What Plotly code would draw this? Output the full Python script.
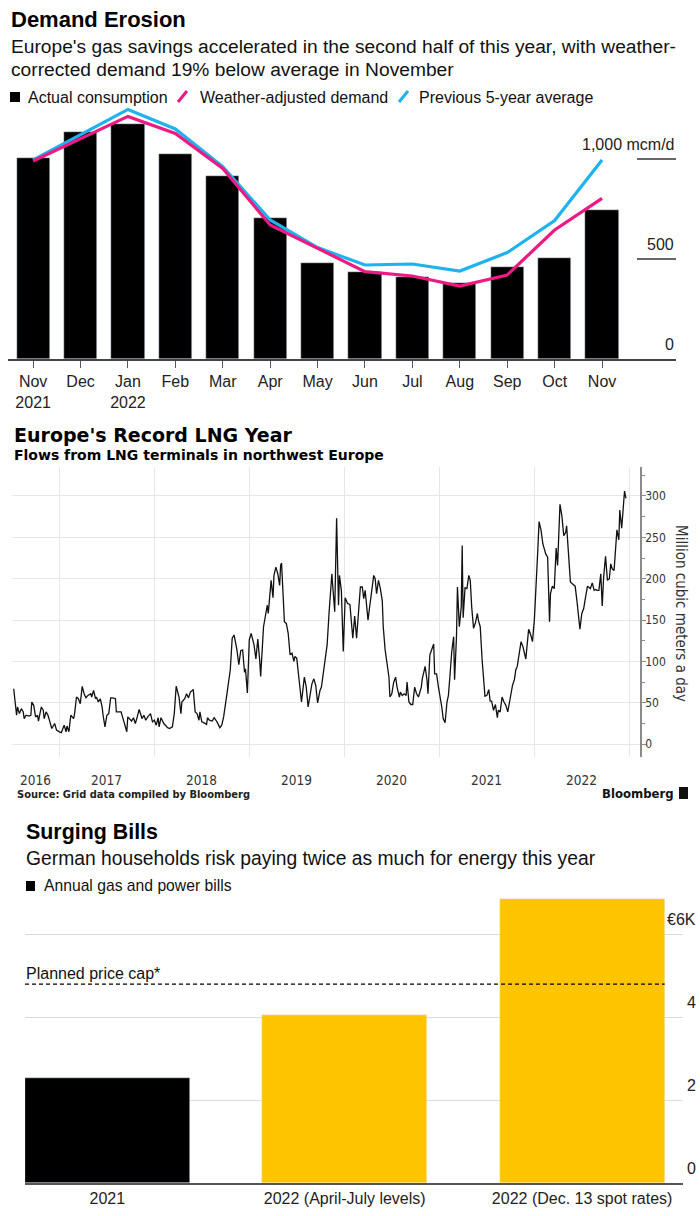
import plotly.graph_objects as go
import pandas as pd

W, H = 700, 1216

# ---------------- data: Demand Erosion ----------------
months = ["Nov 2021", "Dec 2021", "Jan 2022", "Feb 2022", "Mar 2022", "Apr 2022", "May 2022",
          "Jun 2022", "Jul 2022", "Aug 2022", "Sep 2022", "Oct 2022", "Nov 2022"]
month_labels = ["Nov<br>2021", "Dec", "Jan<br>2022", "Feb", "Mar", "Apr", "May",
                "Jun", "Jul", "Aug", "Sep", "Oct", "Nov"]
actual_consumption = [1005, 1133, 1173, 1025, 915, 703, 478, 433, 412, 382, 462, 503, 745]
weather_adjusted = [990, 1100, 1213, 1128, 953, 670, 553, 437, 415, 365, 420, 645, 803]
five_year_avg = [995, 1120, 1248, 1150, 962, 695, 557, 470, 475, 440, 532, 692, 995]
demand_ticks = [0, 500, 1000]
demand_tick_text = ["0", "500", "1,000 mcm/d"]

# ---------------- data: LNG flows (decimal year, mcm/d) ----------------
lng_points = [
    (2016.52, 67), (2016.55, 35), (2016.56, 45), (2016.58, 37), (2016.60, 43), (2016.62, 39),
    (2016.63, 31), (2016.65, 35), (2016.68, 34), (2016.70, 35), (2016.71, 51), (2016.73, 47),
    (2016.75, 33), (2016.77, 35), (2016.78, 28), (2016.81, 45), (2016.83, 41), (2016.84, 31),
    (2016.86, 39), (2016.88, 35), (2016.90, 27), (2016.92, 19), (2016.95, 25), (2016.97, 17),
    (2017.00, 15), (2017.02, 14), (2017.05, 23), (2017.07, 15), (2017.08, 22), (2017.10, 15),
    (2017.12, 35), (2017.15, 31), (2017.16, 37), (2017.18, 57), (2017.20, 55), (2017.22, 49),
    (2017.24, 70), (2017.26, 61), (2017.28, 56), (2017.30, 59), (2017.33, 61), (2017.34, 57),
    (2017.36, 65), (2017.38, 55), (2017.39, 57), (2017.41, 51), (2017.43, 55), (2017.45, 45),
    (2017.46, 35), (2017.48, 21), (2017.50, 35), (2017.52, 37), (2017.54, 56), (2017.56, 56),
    (2017.59, 55), (2017.60, 39), (2017.63, 39), (2017.65, 39), (2017.67, 31), (2017.69, 23),
    (2017.71, 15), (2017.72, 33), (2017.74, 30), (2017.76, 28), (2017.78, 32), (2017.80, 25),
    (2017.82, 33), (2017.84, 42), (2017.87, 31), (2017.89, 35), (2017.91, 29), (2017.93, 33),
    (2017.96, 37), (2017.98, 27), (2018.00, 29), (2018.02, 23), (2018.04, 32), (2018.05, 21),
    (2018.07, 32), (2018.10, 25), (2018.14, 20), (2018.16, 19), (2018.19, 21), (2018.21, 37),
    (2018.23, 70), (2018.26, 57), (2018.28, 37), (2018.29, 51), (2018.32, 55), (2018.34, 61),
    (2018.36, 56), (2018.38, 63), (2018.41, 66), (2018.42, 53), (2018.43, 39), (2018.45, 37),
    (2018.47, 29), (2018.48, 39), (2018.50, 27), (2018.52, 26), (2018.55, 24), (2018.56, 32),
    (2018.58, 29), (2018.61, 28), (2018.63, 32), (2018.66, 27), (2018.69, 20), (2018.71, 23),
    (2018.73, 33), (2018.76, 57), (2018.78, 77), (2018.80, 90), (2018.82, 128), (2018.84, 132),
    (2018.87, 114), (2018.89, 96), (2018.91, 113), (2018.93, 114), (2018.95, 87), (2018.96, 91),
    (2018.98, 62), (2019.00, 126), (2019.02, 134), (2019.05, 120), (2019.07, 103), (2019.09, 127),
    (2019.11, 101), (2019.12, 82), (2019.15, 142), (2019.17, 154), (2019.19, 168), (2019.20, 158),
    (2019.22, 182), (2019.23, 198), (2019.25, 177), (2019.26, 204), (2019.28, 214), (2019.30, 206),
    (2019.32, 192), (2019.33, 216), (2019.34, 219), (2019.36, 174), (2019.37, 148), (2019.39, 146),
    (2019.41, 134), (2019.43, 108), (2019.45, 110), (2019.47, 100), (2019.48, 106), (2019.50, 104),
    (2019.52, 81), (2019.54, 65), (2019.55, 51), (2019.58, 81), (2019.60, 69), (2019.62, 45),
    (2019.64, 61), (2019.66, 73), (2019.68, 79), (2019.70, 71), (2019.72, 50), (2019.745, 65),
    (2019.76, 69), (2019.79, 94), (2019.81, 116), (2019.82, 120), (2019.84, 158), (2019.87, 206),
    (2019.88, 190), (2019.90, 160), (2019.92, 273), (2019.94, 168), (2019.95, 204), (2019.97, 186),
    (2019.99, 112), (2020.01, 177), (2020.035, 170), (2020.06, 169), (2020.09, 128), (2020.11, 155),
    (2020.13, 128), (2020.15, 166), (2020.17, 190), (2020.19, 190), (2020.205, 176), (2020.22, 186),
    (2020.25, 150), (2020.265, 164), (2020.28, 176), (2020.31, 204), (2020.325, 200), (2020.34, 182),
    (2020.36, 198), (2020.38, 188), (2020.40, 173), (2020.41, 142), (2020.43, 114), (2020.45, 98),
    (2020.47, 81), (2020.48, 57), (2020.50, 61), (2020.52, 75), (2020.54, 81), (2020.555, 69),
    (2020.58, 57), (2020.59, 63), (2020.61, 59), (2020.63, 61), (2020.65, 59), (2020.66, 75),
    (2020.68, 51), (2020.70, 48), (2020.72, 48), (2020.74, 69), (2020.76, 61), (2020.78, 57),
    (2020.81, 69), (2020.82, 79), (2020.85, 94), (2020.87, 77), (2020.88, 61), (2020.90, 108),
    (2020.92, 116), (2020.94, 121), (2020.95, 85), (2020.97, 85), (2020.99, 69), (2021.01, 57),
    (2021.025, 45), (2021.04, 31), (2021.06, 26), (2021.08, 51), (2021.095, 59), (2021.11, 81),
    (2021.13, 112), (2021.15, 130), (2021.16, 78), (2021.18, 130), (2021.19, 190), (2021.21, 142),
    (2021.23, 166), (2021.24, 240), (2021.25, 153), (2021.27, 189), (2021.29, 188), (2021.31, 204),
    (2021.325, 198), (2021.34, 166), (2021.36, 140), (2021.38, 147), (2021.40, 158), (2021.41, 150),
    (2021.43, 142), (2021.45, 102), (2021.465, 73), (2021.48, 58), (2021.50, 59), (2021.52, 66),
    (2021.535, 52), (2021.55, 52), (2021.57, 41), (2021.59, 48), (2021.61, 32), (2021.62, 41),
    (2021.64, 39), (2021.66, 57), (2021.68, 51), (2021.70, 47), (2021.72, 39), (2021.745, 56),
    (2021.77, 71), (2021.79, 78), (2021.805, 90), (2021.82, 94), (2021.84, 108), (2021.86, 124),
    (2021.88, 118), (2021.91, 103), (2021.93, 127), (2021.94, 139), (2021.96, 133), (2021.98, 124),
    (2022.00, 150), (2022.02, 190), (2022.035, 231), (2022.05, 269), (2022.07, 259), (2022.09, 242),
    (2022.11, 232), (2022.12, 230), (2022.14, 226), (2022.16, 148), (2022.17, 182), (2022.19, 191),
    (2022.21, 188), (2022.23, 237), (2022.245, 216), (2022.27, 290), (2022.29, 276), (2022.31, 252),
    (2022.33, 256), (2022.34, 264), (2022.36, 230), (2022.38, 196), (2022.40, 194), (2022.415, 192),
    (2022.43, 191), (2022.45, 172), (2022.47, 148), (2022.48, 139), (2022.50, 158), (2022.52, 164),
    (2022.54, 178), (2022.56, 191), (2022.57, 190), (2022.59, 188), (2022.61, 195), (2022.63, 186),
    (2022.645, 187), (2022.66, 186), (2022.68, 186), (2022.70, 206), (2022.715, 167), (2022.73, 202),
    (2022.75, 227), (2022.77, 198), (2022.79, 200), (2022.805, 218), (2022.82, 212), (2022.84, 210),
    (2022.86, 243), (2022.87, 259), (2022.89, 247), (2022.90, 283), (2022.92, 261), (2022.94, 286),
    (2022.95, 306), (2022.965, 297),
]
lng_years = [p[0] for p in lng_points]
lng_values = [p[1] for p in lng_points]
lng_year_labels = [2016, 2017, 2018, 2019, 2020, 2021, 2022]
lng_ticks = [0, 50, 100, 150, 200, 250, 300]

# ---------------- data: Surging Bills ----------------
bill_categories = ["2021", "2022 (April-July levels)", "2022 (Dec. 13 spot rates)"]
bill_values = [2.53, 4.06, 6.85]  # thousand euros
price_cap = 4.8
bill_ticks = [0, 2, 4, 6]
bill_tick_text = ["0", "2", "4", "€6K"]

# ---------------- helpers ----------------
FONT = "'Liberation Sans', Arial, sans-serif"
TFONT = "'DejaVu Sans', sans-serif"
CFONT = "'DejaVu Sans Condensed', 'DejaVu Sans', sans-serif"
PINK = "#ec1a82"
BLUE = "#1eb2ee"
YELLOW = "#ffc400"


def px(x):
    return x / W


def py(y):
    return 1 - y / H


def to_date(t):
    y = int(t)
    start = pd.Timestamp(year=y, month=1, day=1)
    end = pd.Timestamp(year=y + 1, month=1, day=1)
    return start + (end - start) * (t - y)


fig = go.Figure()
ann = []
shapes = []


def text(x, y, s, size, color="#111", family=FONT, anchor="left", **kw):
    ann.append(dict(x=px(x), y=py(y), xref="paper", yref="paper", text=s, showarrow=False,
                    xanchor=anchor, yanchor="middle", font=dict(size=size, color=color, family=family), **kw))


# ================= Chart 1 =================
fig.add_trace(go.Bar(x=months, y=actual_consumption, marker_color="#000", width=0.7,
                     xaxis="x", yaxis="y", showlegend=False))
fig.add_trace(go.Scatter(x=months, y=five_year_avg, mode="lines", line=dict(color=BLUE, width=3.2),
                         xaxis="x", yaxis="y", showlegend=False))
fig.add_trace(go.Scatter(x=months, y=weather_adjusted, mode="lines", line=dict(color=PINK, width=3.2),
                         xaxis="x", yaxis="y", showlegend=False))

text(9, 19, "<b>Demand Erosion</b>", 22, "#000")
text(9, 47, "Europe's gas savings accelerated in the second half of this year, with weather-", 19.2)
text(9, 70, "corrected demand 19% below average in November", 19.2)
# legend
shapes.append(dict(type="rect", xref="paper", yref="paper", x0=px(10), x1=px(20), y0=py(102), y1=py(92),
                   fillcolor="#000", line=dict(width=0)))
text(26, 97, "Actual consumption", 16)
shapes.append(dict(type="line", xref="paper", yref="paper", x0=px(178), x1=px(187), y0=py(102), y1=py(91),
                   line=dict(color=PINK, width=3)))
text(198, 97, "Weather-adjusted demand", 16)
shapes.append(dict(type="line", xref="paper", yref="paper", x0=px(399), x1=px(408), y0=py(102), y1=py(91),
                   line=dict(color=BLUE, width=3)))
text(417, 97, "Previous 5-year average", 16)

for v, t in zip(demand_ticks, demand_tick_text):
    ann.append(dict(x=px(676), y=v, xref="paper", yref="y", text=t, showarrow=False, xanchor="right",
                    yanchor="middle", yshift=15, font=dict(size=16, color="#222", family=FONT)))
    if v > 0:
        shapes.append(dict(type="line", xref="paper", yref="y", x0=px(637), x1=px(676), y0=v, y1=v,
                           line=dict(color="#333", width=1.3)))

# ================= Chart 2 =================
fig.add_trace(go.Scatter(x=[to_date(t) for t in lng_years], y=lng_values, mode="lines",
                         line=dict(color="#111", width=1.3), xaxis="x2", yaxis="y2", showlegend=False))

text(12, 435, "<b>Europe's Record LNG Year</b>", 19, "#000", TFONT)
text(12, 455, "<b>Flows from LNG terminals in northwest Europe</b>", 14, "#000", TFONT)
x2_start, x2_end = 2016.502, 2023.113
for yr in lng_year_labels:
    pos = (max(yr, x2_start) + yr + 1) / 2
    ann.append(dict(x=to_date(pos), y=py(780), xref="x2", yref="paper", text=str(yr), showarrow=False,
                    xanchor="center", yanchor="middle", font=dict(size=13.5, color="#333", family=CFONT)))
ann.append(dict(x=px(681), y=py(613), xref="paper", yref="paper", text="Million cubic meters a day",
                showarrow=False, textangle=90, xanchor="center", yanchor="middle",
                font=dict(size=15, color="#333", family=CFONT)))
text(15, 794, "<b>Source: Grid data compiled by Bloomberg</b>", 11, "#222", CFONT)
text(676, 793, "<b>Bloomberg</b>", 13, "#111", CFONT, anchor="right")
shapes.append(dict(type="rect", xref="paper", yref="paper", x0=px(679), x1=px(688), y0=py(799), y1=py(787),
                   fillcolor="#111", line=dict(width=0)))

# ================= Chart 3 =================
fig.add_trace(go.Bar(x=bill_categories, y=bill_values, width=0.695,
                     marker_color=["#000" if i == 0 else YELLOW for i in range(len(bill_values))],
                     xaxis="x3", yaxis="y3", showlegend=False))

text(24, 832, "<b>Surging Bills</b>", 21.4, "#000")
text(24, 858, "German households risk paying twice as much for energy this year", 19.3)
shapes.append(dict(type="rect", xref="paper", yref="paper", x0=px(26), x1=px(35), y0=py(891), y1=py(881),
                   fillcolor="#000", line=dict(width=0)))
text(42, 886, "Annual gas and power bills", 15.7)
for v, t in zip(bill_ticks, bill_tick_text):
    ann.append(dict(x=px(698), y=v, xref="paper", yref="y3", text=t, showarrow=False, xanchor="right",
                    yanchor="middle", yshift=15, font=dict(size=16, color="#222", family=FONT)))
shapes.append(dict(type="line", xref="x3", yref="y3", x0=-0.347, x1=2.3475, y0=price_cap, y1=price_cap,
                   line=dict(color="#000", width=1.4, dash="4px,3px")))
ann.append(dict(x=px(24), y=price_cap, xref="paper", yref="y3", text="Planned price cap*", showarrow=False,
                xanchor="left", yanchor="middle", yshift=11, font=dict(size=16, color="#111", family=FONT)))

fig.update_layout(
    width=W, height=H, margin=dict(l=0, r=0, t=0, b=0),
    paper_bgcolor="white", plot_bgcolor="white",
    annotations=ann, shapes=shapes, bargap=0,
    xaxis=dict(domain=[px(8), px(676)], anchor="y", type="category", range=[-0.53, 13.56],
               tickvals=months, ticktext=month_labels, ticks="outside", ticklen=7, tickcolor="#555",
               tickwidth=1.3, showline=True, linecolor="#444", linewidth=1.5, showgrid=False,
               tickfont=dict(size=16, color="#222", family=FONT), fixedrange=True),
    yaxis=dict(domain=[py(359), py(105)], anchor="x", range=[0, 1270], visible=False),
    xaxis2=dict(domain=[px(12), px(640)], anchor="y2", type="date",
                range=[to_date(x2_start), to_date(x2_end)], showgrid=True, gridcolor="#e6e6e6",
                gridwidth=1, tick0="2017-01-01", dtick="M12", showticklabels=False, ticks="",
                showline=False, zeroline=False),
    yaxis2=dict(domain=[py(756.7), py(466.7)], anchor="x2", side="right", range=[-15.1, 335.4],
                tickvals=lng_ticks, showgrid=True, gridcolor="#e6e6e6", zeroline=False,
                showline=True, linecolor="#8a8a8a", linewidth=1.5, ticks="outside", ticklen=4,
                tickcolor="#8a8a8a", ticklabelstandoff=-3,
                tickfont=dict(size=12, color="#333", family=CFONT),
                minor=dict(dtick=25, tick0=0, ticks="outside", ticklen=3, tickcolor="#8a8a8a", showgrid=False)),
    xaxis3=dict(domain=[px(25), px(683)], anchor="y3", type="category", range=[-0.347, 2.425],
                showline=True, linecolor="#555", linewidth=1.5, ticks="", showgrid=False,
                tickfont=dict(size=16, color="#222", family=FONT)),
    yaxis3=dict(domain=[py(1183.3), py(890)], anchor="x3", range=[0, 7.07], tickvals=bill_ticks[1:],
                showgrid=True, gridcolor="#dcdcdc", gridwidth=1.3, showticklabels=False,
                zeroline=False, showline=False),
)

fig.write_html("out.html", config={"displayModeBar": False},
               post_script="document.body.style.margin='0px';")
